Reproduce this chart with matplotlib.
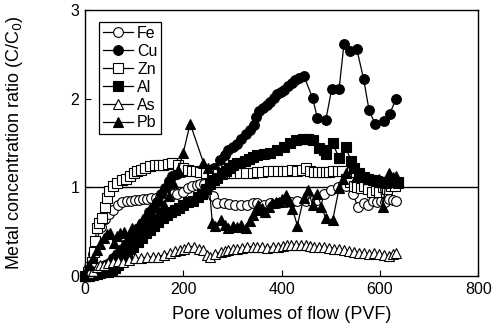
import matplotlib
matplotlib.use("Agg")
import matplotlib.pyplot as plt

plt.rcParams['font.family'] = ['Liberation Sans', 'DejaVu Sans']

# breakthrough data, C/C0 vs pore volumes of flow
fe_x = [0, 8, 16, 24, 32, 40, 48, 57, 67, 76, 86, 94, 102, 110, 118, 126, 135, 144, 153, 161,
        170, 179, 188, 200, 209, 218, 227, 235, 243, 251, 260, 269, 282, 294, 306, 318, 330, 341,
        351, 364, 377, 392, 408, 420, 432, 449, 461, 473, 486, 500, 515, 531, 545, 555, 567, 576,
        585, 594, 602, 610, 618, 626, 633]
fe_y = [0.0, 0.1, 0.25, 0.4, 0.55, 0.64, 0.7, 0.74, 0.8, 0.83, 0.85, 0.85, 0.86, 0.86, 0.87, 0.87,
        0.88, 0.88, 0.89, 0.9, 0.91, 0.92, 0.93, 0.95, 0.99, 1.02, 1.03, 1.04, 1.04, 1.0, 0.9, 0.82,
        0.82, 0.81, 0.8, 0.8, 0.8, 0.82, 0.82, 0.8, 0.82, 0.82, 0.84, 0.83, 0.85, 0.85, 0.85, 0.86,
        0.92, 0.97, 1.0, 1.02, 0.93, 0.78, 0.82, 0.8, 0.85, 0.83, 0.85, 0.84, 0.87, 0.86, 0.85]

cu_x = [0, 8, 16, 24, 32, 40, 48, 57, 66, 75, 84, 92, 100, 108, 116, 124, 131, 139, 147, 155,
        163, 170, 177, 188, 200, 212, 225, 238, 250, 262, 275, 284, 292, 301, 310, 318, 327, 335,
        343, 348, 355, 362, 370, 377, 384, 391, 398, 405, 413, 421, 428, 436, 445, 463, 473, 490,
        502, 517, 527, 539, 553, 567, 578, 590, 608, 620, 633]
cu_y = [0.0, 0.01, 0.03, 0.05, 0.08, 0.12, 0.15, 0.2, 0.25, 0.3, 0.36, 0.42, 0.48, 0.54, 0.6,
        0.66, 0.72, 0.77, 0.84, 0.92, 0.99, 1.07, 1.13, 1.15, 1.17, 1.18, 1.18, 1.18, 1.19, 1.22,
        1.31, 1.37, 1.42, 1.46, 1.49, 1.55, 1.6, 1.65, 1.7, 1.79, 1.86, 1.9, 1.93, 1.96, 2.01, 2.05,
        2.08, 2.1, 2.14, 2.18, 2.21, 2.23, 2.26, 2.01, 1.78, 1.76, 2.11, 2.11, 2.62, 2.54, 2.56,
        2.22, 1.87, 1.72, 1.75, 1.83, 2.0]

zn_x = [0, 6, 10, 14, 18, 21, 24, 29, 35, 41, 45, 49, 57, 66, 76, 84, 92, 99, 106, 114, 122,
        132, 143, 151, 159, 168, 178, 190, 200, 209, 218, 226, 235, 247, 259, 270, 280, 292, 304,
        316, 328, 341, 351, 361, 372, 382, 392, 402, 412, 422, 432, 441, 449, 458, 466, 475, 483,
        490, 496, 505, 514, 523, 531, 539, 547, 554, 561, 568, 575, 584, 592, 599, 606, 614, 622,
        630, 637]
zn_y = [0.0, 0.05, 0.1, 0.16, 0.27, 0.4, 0.54, 0.6, 0.66, 0.78, 0.88, 0.96, 1.02, 1.05, 1.08,
        1.1, 1.13, 1.16, 1.19, 1.2, 1.22, 1.24, 1.25, 1.25, 1.25, 1.26, 1.27, 1.25, 1.22, 1.2, 1.19,
        1.18, 1.17, 1.16, 1.15, 1.15, 1.16, 1.16, 1.16, 1.16, 1.16, 1.16, 1.17, 1.17, 1.18, 1.18,
        1.19, 1.19, 1.19, 1.2, 1.19, 1.2, 1.22, 1.19, 1.17, 1.17, 1.17, 1.17, 1.17, 1.18, 1.19,
        1.19, 1.1, 1.06, 1.02, 1.0, 0.99, 1.02, 0.98, 0.95, 0.97, 0.95, 1.0, 0.98, 1.02, 1.02, 1.05]

al_x = [0, 8, 16, 24, 31, 39, 47, 55, 61, 67, 76, 86, 92, 98, 107, 116, 124, 133, 141, 149,
        158, 167, 175, 184, 192, 200, 210, 220, 230, 239, 247, 255, 262, 269, 278, 286, 294, 302,
        309, 316, 325, 333, 342, 351, 364, 377, 390, 405, 418, 430, 443, 453, 463, 476, 486, 490,
        504, 517, 531, 541, 547, 557, 567, 576, 585, 594, 602, 610, 618, 626, 637]
al_y = [0.0, 0.0, 0.01, 0.02, 0.03, 0.04, 0.05, 0.07, 0.09, 0.12, 0.19, 0.26, 0.3, 0.33, 0.38,
        0.43, 0.48, 0.52, 0.57, 0.61, 0.65, 0.69, 0.72, 0.74, 0.77, 0.8, 0.83, 0.85, 0.89, 0.93,
        0.98, 1.04, 1.08, 1.11, 1.15, 1.19, 1.22, 1.25, 1.27, 1.28, 1.3, 1.32, 1.34, 1.36, 1.38,
        1.39, 1.42, 1.46, 1.5, 1.53, 1.55, 1.54, 1.53, 1.44, 1.42, 1.38, 1.5, 1.33, 1.45, 1.3, 1.22,
        1.16, 1.12, 1.1, 1.08, 1.07, 1.06, 1.06, 1.06, 1.06, 1.06]

as_x = [0, 8, 16, 24, 31, 39, 47, 57, 67, 78, 90, 102, 114, 126, 138, 149, 161, 173, 184, 194,
        202, 210, 221, 231, 241, 248, 255, 265, 276, 284, 292, 301, 310, 320, 330, 341, 351, 361,
        371, 382, 392, 402, 412, 420, 429, 439, 449, 457, 466, 476, 486, 496, 506, 516, 527, 537,
        547, 557, 567, 578, 588, 598, 608, 618, 626, 633]
as_y = [0.0, 0.03, 0.06, 0.1, 0.12, 0.13, 0.15, 0.16, 0.17, 0.16, 0.18, 0.2, 0.2, 0.21, 0.22,
        0.22, 0.24, 0.26, 0.28, 0.29, 0.31, 0.33, 0.33, 0.31, 0.29, 0.24, 0.21, 0.25, 0.27, 0.28,
        0.29, 0.3, 0.31, 0.32, 0.33, 0.33, 0.33, 0.33, 0.32, 0.33, 0.33, 0.34, 0.35, 0.35, 0.35,
        0.35, 0.35, 0.34, 0.33, 0.33, 0.33, 0.32, 0.31, 0.3, 0.29, 0.28, 0.27, 0.26, 0.26, 0.25,
        0.26, 0.25, 0.24, 0.23, 0.25, 0.26]

pb_x = [0, 8, 16, 24, 31, 39, 45, 51, 59, 65, 71, 80, 90, 96, 104, 112, 119, 126, 134, 141,
        150, 160, 170, 180, 190, 200, 214, 241, 250, 259, 265, 276, 284, 292, 301, 310, 318, 327,
        335, 341, 347, 353, 360, 367, 374, 381, 388, 394, 401, 408, 415, 422, 432, 445, 454, 463,
        473, 481, 490, 504, 517, 524, 531, 541, 551, 558, 565, 572, 578, 585, 592, 599, 606, 612,
        618, 626, 633]
pb_y = [0.0, 0.12, 0.2, 0.29, 0.36, 0.43, 0.47, 0.48, 0.37, 0.45, 0.48, 0.5, 0.44, 0.54, 0.53,
        0.55, 0.56, 0.57, 0.61, 0.65, 0.72, 0.8, 0.9, 1.05, 1.2, 1.39, 1.72, 1.28, 1.22, 0.6, 0.57,
        0.63, 0.58, 0.54, 0.57, 0.55, 0.58, 0.54, 0.62, 0.69, 0.75, 0.8, 0.77, 0.72, 0.78, 0.82,
        0.83, 0.83, 0.87, 0.91, 0.85, 0.76, 0.57, 0.88, 0.97, 0.8, 0.93, 0.78, 0.65, 0.63, 0.99,
        1.1, 1.16, 1.3, 1.12, 1.15, 1.13, 1.12, 1.1, 1.09, 1.08, 1.1, 0.78, 1.05, 1.16, 1.12, 1.13]


def plot_series(ax, x, y, marker, filled, label):
    ax.plot(x, y, color='black', linewidth=0.9, marker=marker, markersize=7,
            markerfacecolor='black' if filled else 'white', markeredgecolor='black',
            markeredgewidth=0.8, label=label, clip_on=False)


fig, ax = plt.subplots(figsize=(4.94, 3.35), dpi=100)
fig.subplots_adjust(left=0.172, right=0.968, bottom=0.176, top=0.970)

plot_series(ax, fe_x, fe_y, 'o', False, 'Fe')
plot_series(ax, cu_x, cu_y, 'o', True, 'Cu')
plot_series(ax, zn_x, zn_y, 's', False, 'Zn')
plot_series(ax, al_x, al_y, 's', True, 'Al')
plot_series(ax, as_x, as_y, '^', False, 'As')
plot_series(ax, pb_x, pb_y, '^', True, 'Pb')

# reference line at C/C0 = 1
ax.axhline(1, color='black', linewidth=1.0, zorder=1)

ax.set_xlim(0, 800)
ax.set_ylim(0, 3)
ax.set_xticks([0, 200, 400, 600, 800])
ax.set_yticks([0, 1, 2, 3])
ax.tick_params(direction='in', length=4, labelsize=11.5, width=0.8, pad=4)
for s in ax.spines.values():
    s.set_linewidth(1.0)

ax.set_xlabel('Pore volumes of flow (PVF)', fontsize=13, labelpad=7)
ax.set_ylabel('Metal concentration ratio (C/C$_0$)', fontsize=13, labelpad=33)

leg = ax.legend(loc='upper left', bbox_to_anchor=(0.035, 0.955), fontsize=11.5,
                frameon=True, fancybox=False, edgecolor='black', framealpha=1,
                labelspacing=0.18, handlelength=1.9, handletextpad=0.25,
                borderpad=0.25, borderaxespad=0)
leg.get_frame().set_linewidth(0.9)

fig.savefig('out.png', dpi=100)
